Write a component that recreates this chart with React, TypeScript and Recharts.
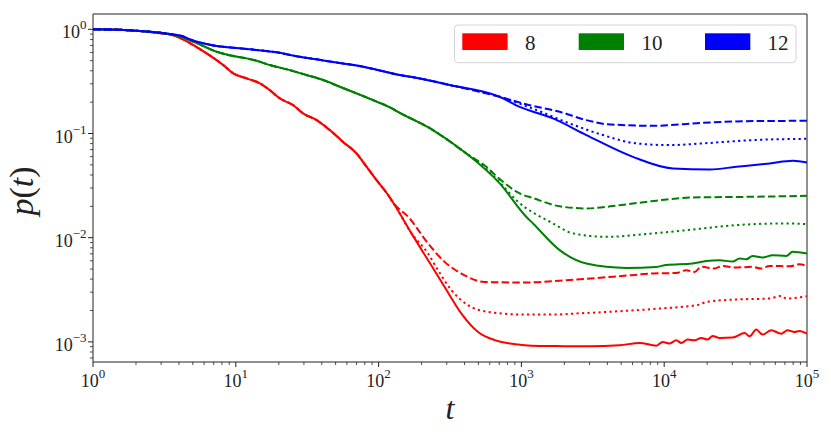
import React from "react";
import { Label, Line, LineChart, ReferenceArea, XAxis, YAxis } from "recharts";

type Pair = [number, number];

// readings: [t, p(t)]
const RED_8_COMMON: Pair[] = [
	[1, 1], [1.5, 0.992], [2, 0.967], [2.5, 0.945], [3, 0.918], [3.65, 0.878], [4.2, 0.81],
	[4.77, 0.738], [6.25, 0.588], [8.16, 0.454], [9.6, 0.378], [11.9, 0.338], [14.75, 0.303],
	[17.3, 0.261], [20.4, 0.217], [25.2, 0.187], [29.6, 0.156], [36.8, 0.1345], [45.5, 0.108],
	[56.4, 0.083], [70, 0.0644], [82.3, 0.048], [96.7, 0.0357], [113.6, 0.027],
];

const RED_8_SOLID: Pair[] = [
	...RED_8_COMMON,
	[129.8, 0.0205], [170, 0.011], [222, 0.00608], [290, 0.00337], [380, 0.00187], [497, 0.001245],
	[650, 0.00104], [1054, 0.000927], [1343, 0.000914], [2000, 0.00091], [3000, 0.00091],
	[4875, 0.00093], [6730, 0.000976], [8810, 0.00092], [9750, 0.000998], [10920, 0.000964],
	[12160, 0.001036], [13180, 0.000976], [14590, 0.001052], [16330, 0.001036], [18190, 0.00109],
	[20140, 0.001052], [21830, 0.00114], [24440, 0.00109], [30120, 0.0011], [36560, 0.001217],
	[39560, 0.00113], [44120, 0.001313], [48840, 0.001175], [56150, 0.00129], [65960, 0.0012],
	[73040, 0.00129], [81750, 0.001245], [88690, 0.001273], [100000, 0.0012],
];

const RED_8_DASHED: Pair[] = [
	...RED_8_COMMON,
	[129.8, 0.0208], [161, 0.0159], [222, 0.0088], [290, 0.00586], [380, 0.00453], [553, 0.00376],
	[1054, 0.00371], [2075, 0.00391], [4875, 0.00427], [8300, 0.00453], [12160, 0.00459],
	[14280, 0.00487], [16330, 0.00469], [18190, 0.00525], [22540, 0.00506], [25640, 0.00536],
	[31120, 0.00517], [41590, 0.00525], [47860, 0.00506], [54730, 0.00536], [75520, 0.00532],
	[88690, 0.00556], [100000, 0.00532],
];

const RED_8_DOTTED: Pair[] = [
	...RED_8_COMMON,
	[129.8, 0.0205], [170, 0.011], [222, 0.00705], [261, 0.00487], [324, 0.00313], [423, 0.00225],
	[583, 0.00194], [1054, 0.00183], [1656, 0.00183], [2560, 0.00188], [4875, 0.00197],
	[9290, 0.00209], [17700, 0.00228], [19700, 0.00242], [32000, 0.00255], [54730, 0.00261],
	[65960, 0.00276], [71500, 0.00261], [100000, 0.00274],
];

const GREEN_10_COMMON: Pair[] = [
	[1, 1], [1.5, 0.992], [2, 0.968], [2.5, 0.947], [3, 0.921], [3.65, 0.886], [4.2, 0.838],
	[5.32, 0.738], [7.34, 0.609], [9.6, 0.554], [11.9, 0.526], [14, 0.499], [17.3, 0.454],
	[23.9, 0.406], [31.3, 0.364], [40.9, 0.326], [53.5, 0.281], [70, 0.243], [91.5, 0.209],
	[120, 0.178], [140.7, 0.158], [240, 0.108], [412, 0.0643],
];

const GREEN_10_SOLID: Pair[] = [
	...GREEN_10_COMMON,
	[705, 0.0332], [1084, 0.0158], [1206, 0.0137], [1853, 0.0076], [2851, 0.00565], [5430, 0.00513],
	[8810, 0.00524], [10350, 0.00548], [15800, 0.00565], [19700, 0.00598], [24440, 0.00608],
	[30120, 0.0059], [33700, 0.00631], [37560, 0.00621], [41590, 0.00668], [48840, 0.00645],
	[57410, 0.00679], [71560, 0.00668], [79200, 0.00731], [100000, 0.00705],
];

const GREEN_10_DASHED: Pair[] = [
	...GREEN_10_COMMON,
	[568, 0.0479], [705, 0.0365], [973, 0.0266], [1206, 0.024], [1853, 0.02], [2851, 0.0191],
	[4875, 0.0205], [9290, 0.0229], [15900, 0.0243], [41800, 0.0247], [100000, 0.0252],
];

const GREEN_10_DOTTED: Pair[] = [
	...GREEN_10_COMMON,
	[568, 0.046], [705, 0.034], [922, 0.0229], [1665, 0.0137], [2296, 0.011], [3936, 0.0102],
	[8340, 0.011], [14280, 0.0118], [32000, 0.0132], [71500, 0.0137], [100000, 0.0135],
];

const BLUE_12_COMMON: Pair[] = [
	[1, 1], [1.5, 0.993], [2, 0.97], [2.5, 0.95], [3, 0.925], [3.65, 0.893], [4.2, 0.862],
	[4.77, 0.8], [6.25, 0.722], [7.34, 0.691], [9.6, 0.666], [14, 0.633], [19.3, 0.601],
	[26.6, 0.552], [36.8, 0.515], [50.7, 0.48], [70, 0.45], [96.7, 0.41], [140.7, 0.364],
	[194, 0.338], [315, 0.292], [705, 0.225],
];

const BLUE_12_SOLID: Pair[] = [
	...BLUE_12_COMMON,
	[973, 0.18], [1665, 0.1396], [2851, 0.0966], [6040, 0.0597], [11510, 0.0462], [20800, 0.0452],
	[32000, 0.0479], [54730, 0.0516], [79600, 0.0547], [100000, 0.0528],
];

const BLUE_12_DASHED: Pair[] = [
	...BLUE_12_COMMON,
	[1143, 0.187], [1853, 0.1616], [2851, 0.1345], [3936, 0.123], [8340, 0.1186], [18660, 0.1267],
	[41800, 0.1315], [100000, 0.1324],
];

const BLUE_12_DOTTED: Pair[] = [
	...BLUE_12_COMMON,
	[1274, 0.168], [2178, 0.125], [3724, 0.0966], [6380, 0.0804], [10920, 0.0774], [18660, 0.0804],
	[41800, 0.0865], [100000, 0.0889],
];

const SIZES = ["8", "10", "12"];
const COLORS = ["#ff0000", "#008000", "#0000ff"];
const DASH = { solid: undefined, dashed: "7.5 3.2", dotted: "2.2 3.3" };

const SERIES = [
	{ key: "r-solid", points: RED_8_SOLID, color: COLORS[0], dash: DASH.solid },
	{ key: "r-dashed", points: RED_8_DASHED, color: COLORS[0], dash: DASH.dashed },
	{ key: "r-dotted", points: RED_8_DOTTED, color: COLORS[0], dash: DASH.dotted },
	{ key: "g-solid", points: GREEN_10_SOLID, color: COLORS[1], dash: DASH.solid },
	{ key: "g-dashed", points: GREEN_10_DASHED, color: COLORS[1], dash: DASH.dashed },
	{ key: "g-dotted", points: GREEN_10_DOTTED, color: COLORS[1], dash: DASH.dotted },
	{ key: "b-solid", points: BLUE_12_SOLID, color: COLORS[2], dash: DASH.solid },
	{ key: "b-dashed", points: BLUE_12_DASHED, color: COLORS[2], dash: DASH.dashed },
	{ key: "b-dotted", points: BLUE_12_DOTTED, color: COLORS[2], dash: DASH.dotted },
];

const X_DOMAIN = [1, 1e5];
const Y_DOMAIN = [6.41e-4, 1.403];
const X_MAJOR = [1, 10, 100, 1000, 10000, 100000];
const X_EXP = ["0", "1", "2", "3", "4", "5"];
const Y_MAJOR = [1e-3, 1e-2, 1e-1, 1];
const Y_EXP = ["\u22123", "\u22122", "\u22121", "0"];

const FONT = "'Liberation Serif', 'DejaVu Serif', serif";
const INK = "#222";

function withMinor(majors: number[], lo: number, hi: number): number[] {
	const out: number[] = [];
	for (const m of majors.concat([majors[0] / 10])) {
		for (let k = 1; k <= 9; k++) {
			const v = k === 1 ? m : Number((m * k).toPrecision(6));
			if (v >= lo && v <= hi && !out.includes(v)) out.push(v);
		}
	}
	return out.sort((a, b) => a - b);
}

const X_TICKS = withMinor(X_MAJOR, X_DOMAIN[0], X_DOMAIN[1]);
const Y_TICKS = withMinor(Y_MAJOR, Y_DOMAIN[0], Y_DOMAIN[1]);

const toRows = (pairs: Pair[]) => pairs.map(([t, p]) => ({ t, p }));

function XTick(props: any) {
	const { x, y, payload } = props;
	const i = X_MAJOR.indexOf(payload.value);
	if (i < 0) {
		return <line x1={x} y1={y} x2={x} y2={y + 3} stroke={INK} strokeWidth={0.8} />;
	}
	return (
		<g>
			<line x1={x} y1={y} x2={x} y2={y + 5} stroke={INK} strokeWidth={1} />
			<text x={x} y={y + 25} textAnchor="middle" fontFamily={FONT} fontSize={18} fill={INK}>
				10
				<tspan dy={-9} fontSize={13}>
					{X_EXP[i]}
				</tspan>
			</text>
		</g>
	);
}

function YTick(props: any) {
	const { x, y, payload } = props;
	const i = Y_MAJOR.indexOf(payload.value);
	if (i < 0) {
		return <line x1={x} y1={y} x2={x - 3} y2={y} stroke={INK} strokeWidth={0.8} />;
	}
	return (
		<g>
			<line x1={x} y1={y} x2={x - 5} y2={y} stroke={INK} strokeWidth={1} />
			<text x={x - 6.5} y={y + 9} textAnchor="end" fontFamily={FONT} fontSize={18} fill={INK}>
				10
				<tspan dy={-9} fontSize={13}>
					{Y_EXP[i]}
				</tspan>
			</text>
		</g>
	);
}

function Legend() {
	const items = [
		{ rx: 462.3, tx: 525 },
		{ rx: 578.7, tx: 641.5 },
		{ rx: 705, tx: 767.5 },
	];
	return (
		<svg width={831} height={434} style={{ position: "absolute", left: 0, top: 0, pointerEvents: "none" }}>
			<rect x={454.5} y={25} width={341.5} height={37.7} rx={3.5} fill="rgba(255,255,255,0.8)" stroke="#d4d4d4" strokeWidth={1} />
			{items.map((it, i) => (
				<g key={SIZES[i]}>
					<rect x={it.rx} y={33.3} width={45.3} height={16.7} fill={COLORS[i]} />
					<text x={it.tx} y={50} fontFamily={FONT} fontSize={21} fill={INK}>
						{SIZES[i]}
					</text>
				</g>
			))}
		</svg>
	);
}

export default function App() {
	return (
		<div style={{ position: "absolute", left: 0, top: 0, width: 831, height: 434, background: "#fff" }}>
			<LineChart width={831} height={434} margin={{ top: 14, right: 24, bottom: 0, left: 0 }}>
				<XAxis
					dataKey="t"
					type="number"
					scale="log"
					domain={X_DOMAIN}
					allowDataOverflow
					ticks={X_TICKS}
					interval={0}
					tick={<XTick />}
					tickLine={false}
					axisLine={false}
					tickSize={0}
					tickMargin={0}
					height={72}
				>
					<Label
						content={(p: any) => (
							<text
								x={p.viewBox.x + p.viewBox.width / 2}
								y={p.viewBox.y + 57}
								textAnchor="middle"
								fontFamily={FONT}
								fontStyle="italic"
								fontSize={32}
								fill={INK}
							>
								t
							</text>
						)}
					/>
				</XAxis>
				<YAxis
					type="number"
					scale="log"
					domain={Y_DOMAIN}
					allowDataOverflow
					ticks={Y_TICKS}
					interval={0}
					tick={<YTick />}
					tickLine={false}
					axisLine={false}
					tickSize={0}
					tickMargin={0}
					width={93}
				>
					<Label
						content={(p: any) => (
							<text
								transform={`translate(33, ${p.viewBox.y + p.viewBox.height / 2 + 3}) rotate(-90)`}
								textAnchor="middle"
								fontFamily={FONT}
								fontSize={34}
								fill={INK}
							>
								<tspan fontStyle="italic">p</tspan>(<tspan fontStyle="italic">t</tspan>)
							</text>
						)}
					/>
				</YAxis>
				{SERIES.map((s) => (
					<Line
						key={s.key}
						data={toRows(s.points)}
						dataKey="p"
						type="monotone"
						stroke={s.color}
						strokeWidth={2}
						strokeDasharray={s.dash}
						dot={false}
						activeDot={false}
						isAnimationActive={false}
					/>
				))}
				<ReferenceArea
					x1={X_DOMAIN[0]}
					x2={X_DOMAIN[1]}
					y1={Y_DOMAIN[0]}
					y2={Y_DOMAIN[1]}
					fill="none"
					stroke={INK}
					strokeWidth={1}
					ifOverflow="visible"
				/>
			</LineChart>
			<Legend />
		</div>
	);
}
